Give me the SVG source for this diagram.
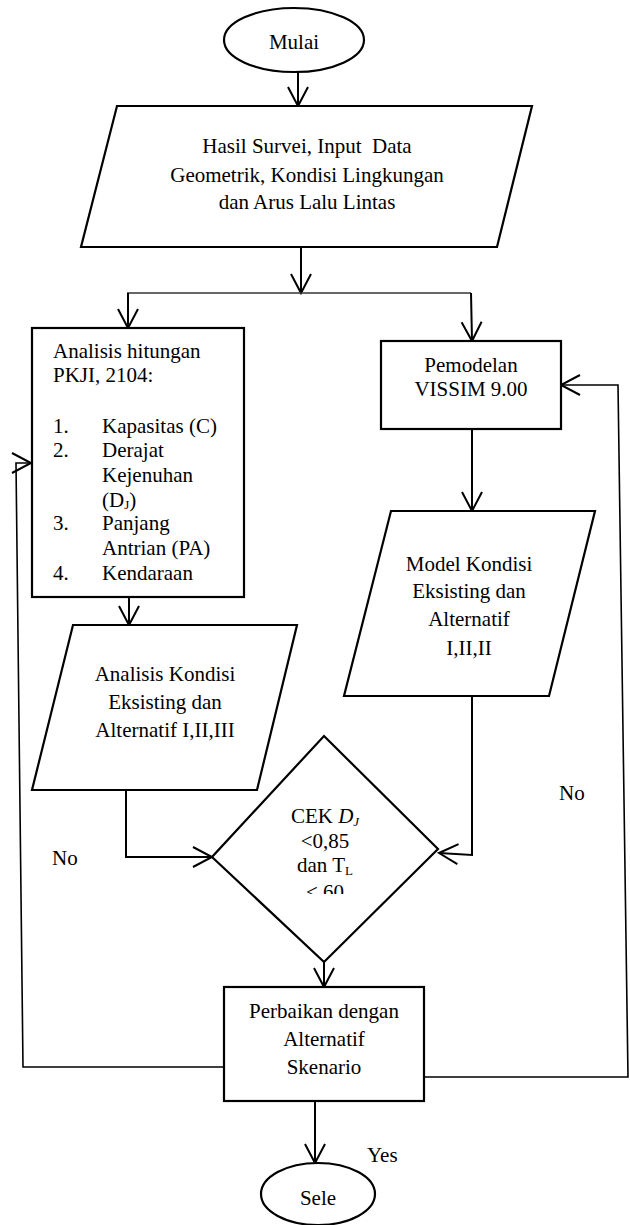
<svg xmlns="http://www.w3.org/2000/svg" width="630" height="1225" viewBox="0 0 630 1225">
<style>
text{font-family:"Liberation Serif","Times New Roman",serif;font-size:21px;fill:#000;white-space:pre}
.c{text-anchor:middle}
.shape{fill:#fff;stroke:#000;stroke-width:2.2}
.conn{fill:none;stroke:#000;stroke-width:2}
.thin{fill:none;stroke:#333;stroke-width:1.3}
.loop{fill:none;stroke:#000;stroke-width:1.6}
.sub{font-size:13px}
</style>
<defs>
<marker id="arr" markerUnits="userSpaceOnUse" markerWidth="24" markerHeight="24" refX="20" refY="11" orient="auto">
<path d="M1 1 L20 11 L1 21" fill="none" stroke="#000" stroke-width="2"/>
</marker>
<clipPath id="dclip"><rect x="200" y="730" width="250" height="164"/></clipPath>
</defs>
<rect width="630" height="1225" fill="#fff"/>
<g id="connectors">
<path class="conn" d="M298 72 L298 106" marker-end="url(#arr)"/>
<path class="conn" d="M301 247 L301 293" marker-end="url(#arr)"/>
<path class="thin" d="M127 293 L471 293"/>
<path class="conn" d="M128 293 L128 328" marker-end="url(#arr)"/>
<path class="conn" d="M471 293 L472 341" marker-end="url(#arr)"/>
<path class="conn" d="M129 597 L129 625" marker-end="url(#arr)"/>
<path class="conn" d="M126 790 L126 857 L212 857" marker-end="url(#arr)"/>
<path class="conn" d="M472 429 L472 511" marker-end="url(#arr)"/>
<path class="conn" d="M472 696 L472 855 L439 853" marker-end="url(#arr)"/>
<path class="conn" d="M324 962 L324 987" marker-end="url(#arr)"/>
<path class="conn" d="M315 1101 L315 1163" marker-end="url(#arr)"/>
<path class="loop" d="M224 1067 L23 1067 L16 463 L31 463" marker-end="url(#arr)"/>
<path class="loop" d="M424 1077 L628 1077 L618 385 L561 385" marker-end="url(#arr)"/>
</g>
<g id="mulai">
<ellipse class="shape" cx="294" cy="40" rx="70" ry="32"/>
<text class="c" x="294" y="49">Mulai</text>
</g>
<g id="input-data">
<polygon class="shape" points="117,106 532,106 497,247 81,247"/>
<text class="c" x="307" y="153">Hasil Survei, Input  Data</text>
<text class="c" x="307" y="182">Geometrik, Kondisi Lingkungan</text>
<text class="c" x="307" y="209">dan Arus Lalu Lintas</text>
</g>
<g id="analisis-pkji">
<rect class="shape" x="32" y="328" width="212" height="269"/>
<text x="53" y="358">Analisis hitungan</text>
<text x="53" y="382">PKJI, 2104:</text>
<text x="53" y="433">1.</text><text x="102" y="433">Kapasitas (C)</text>
<text x="53" y="457">2.</text><text x="102" y="457">Derajat</text>
<text x="102" y="482">Kejenuhan</text>
<text x="102" y="507">(D<tspan class="sub" dy="2">J</tspan><tspan dy="-2">)</tspan></text>
<text x="53" y="530">3.</text><text x="102" y="530">Panjang</text>
<text x="102" y="555">Antrian (PA)</text>
<text x="53" y="580">4.</text><text x="102" y="580">Kendaraan</text>
</g>
<g id="pemodelan">
<rect class="shape" x="381" y="341" width="180" height="88"/>
<text class="c" x="471" y="372">Pemodelan</text>
<text class="c" x="471" y="396">VISSIM 9.00</text>
</g>
<g id="model-kondisi">
<polygon class="shape" points="391,511 595,511 549,696 344,696"/>
<text class="c" x="469" y="571">Model Kondisi</text>
<text class="c" x="469" y="598">Eksisting dan</text>
<text class="c" x="469" y="626">Alternatif</text>
<text class="c" x="469" y="655">I,II,II</text>
</g>
<g id="analisis-kondisi">
<polygon class="shape" points="73,625 297,625 257,790 32,790"/>
<text class="c" x="165" y="681">Analisis Kondisi</text>
<text class="c" x="165" y="709">Eksisting dan</text>
<text class="c" x="165" y="737">Alternatif I,II,III</text>
</g>
<g id="cek">
<polygon class="shape" points="324,736 438,849 324,962 212,857"/>
<g clip-path="url(#dclip)">
<text class="c" x="325" y="823">CEK <tspan font-style="italic">D</tspan><tspan font-style="italic" class="sub" dy="3">J</tspan></text>
<text class="c" x="325" y="848">&lt;0,85</text>
<text class="c" x="325" y="872">dan T<tspan class="sub" dy="3">L</tspan></text>
<text class="c" x="325" y="899">&lt; 60</text>
</g>
</g>
<g id="perbaikan">
<rect class="shape" x="224" y="987" width="200" height="114"/>
<text class="c" x="324" y="1018">Perbaikan dengan</text>
<text class="c" x="324" y="1046">Alternatif</text>
<text class="c" x="324" y="1074">Skenario</text>
</g>
<g id="sele">
<ellipse class="shape" cx="318" cy="1194" rx="57" ry="31"/>
<text class="c" x="318" y="1205">Sele</text>
</g>
<g id="labels">
<text x="52" y="865">No</text>
<text x="559" y="800">No</text>
<text x="367" y="1162">Yes</text>
</g>
</svg>
